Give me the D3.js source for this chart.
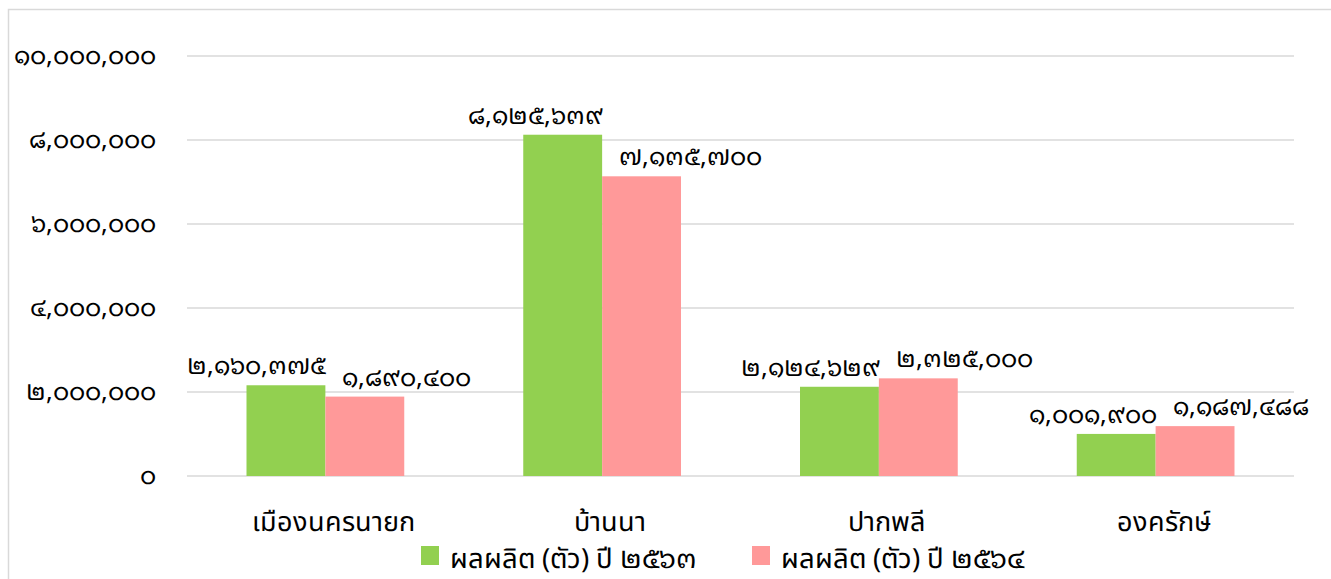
<!DOCTYPE html>
<html>
<head>
<meta charset="utf-8">
<script src="https://cdn.jsdelivr.net/npm/d3@7"></script>
<style>
  /* looped Thai digits, loopless Thai letters */
  @font-face {
    font-family: "ChartThai";
    src: local("Noto Sans Thai Looped"), local("Noto Sans Thai Looped Regular"), local("NotoSansThaiLooped-Regular");
    unicode-range: U+0E50-0E59, U+002C, U+0030-0039;
  }
  @font-face {
    font-family: "ChartThai";
    src: local("Noto Sans Thai"), local("Noto Sans Thai Regular"), local("NotoSansThai-Regular");
    unicode-range: U+0E00-0E4F, U+0E5A-0E7F, U+0020-002B, U+002D-002F, U+003A-007E;
  }
  body { margin: 0; background: #fff; }
  svg text { font-family: "ChartThai", "Noto Sans Thai", sans-serif; fill: #000; }
</style>
</head>
<body>
<svg id="chart"></svg>
<script>
// data
const categories = ["เมืองนครนายก", "บ้านนา", "ปากพลี", "องครักษ์"];
const seriesNames = ["ผลผลิต (ตัว) ปี ๒๕๖๓", "ผลผลิต (ตัว) ปี ๒๕๖๔"];
const values2563 = [2160375, 8125639, 2124629, 1001900];
const values2564 = [1890400, 7135700, 2325000, 1187488];
const yTicks = [0, 2000000, 4000000, 6000000, 8000000, 10000000];

const colors = ["#92d050", "#ff9999"];

const width = 1331, height = 579;
const svg = d3.select("#chart").attr("width", width).attr("height", height);

// thai digits
const thaiDigits = "๐๑๒๓๔๕๖๗๘๙";
const toThai = s => s.replace(/[0-9]/g, d => thaiDigits[+d]);
const fmt = v => toThai(d3.format(",")(v));

// outer frame
svg.append("path")
    .attr("d", `M8.5,${height} V9.5 H${width}`)
    .attr("fill", "none")
    .attr("stroke", "#d9d9d9")
    .attr("stroke-width", 1.5);

const x0 = 187, x1 = 1294, yBase = 476, yTop = 56;

const x = d3.scaleBand().domain(categories).range([x0, x1]).paddingInner(0.43).paddingOuter(0.215);
const xs = d3.scaleBand().domain([0, 1]).range([0, x.bandwidth()]);
const y = d3.scaleLinear().domain([0, 10000000]).range([yBase, yTop]);

// gridlines
svg.append("g")
    .selectAll("line")
    .data(yTicks)
    .join("line")
    .attr("x1", x0).attr("x2", x1)
    .attr("y1", d => y(d)).attr("y2", d => y(d))
    .attr("stroke", "#d9d9d9")
    .attr("stroke-width", 1.5);

// y labels
svg.append("g")
    .selectAll("text")
    .data(yTicks)
    .join("text")
    .attr("x", 156)
    .attr("y", d => y(d) + 8)
    .attr("text-anchor", "end")
    .style("font-size", "25px")
    .text(d => fmt(d));

// bars
const series = [values2563, values2564];

series.forEach((vals, si) => {
    const g = svg.append("g");
    g.selectAll("rect")
        .data(vals)
        .join("rect")
        .attr("x", (d, i) => x(categories[i]) + xs(si))
        .attr("y", d => y(d))
        .attr("width", xs.bandwidth())
        .attr("height", d => yBase - y(d))
        .attr("fill", colors[si]);

    // green labels end at bar's right edge, pink labels start a bit inside the pink bar
    g.selectAll("text")
        .data(vals)
        .join("text")
        .attr("x", (d, i) => si === 0
            ? x(categories[i]) + xs(1) + 1
            : x(categories[i]) + xs(1) + 17)
        .attr("y", d => y(d) - 11)
        .attr("text-anchor", si === 0 ? "end" : "start")
        .style("font-size", "25px")
        .text(d => fmt(d));
});

// category labels
svg.append("g")
    .selectAll("text")
    .data(categories)
    .join("text")
    .attr("x", d => x(d) + x.bandwidth() / 2 + 8)
    .attr("y", 531)
    .attr("text-anchor", "middle")
    .style("font-size", "27px")
    .text(d => d);

// legend
const legendX = [421, 752];
const legend = svg.append("g")
    .selectAll("g")
    .data(seriesNames)
    .join("g")
    .attr("transform", (d, i) => `translate(${legendX[i]},546)`);

legend.append("rect")
    .attr("width", 18).attr("height", 19)
    .attr("fill", (d, i) => colors[i]);

legend.append("text")
    .attr("x", 29)
    .attr("y", 22)
    .style("font-size", "27.5px")
    .text(d => d);
</script>
</body>
</html>
